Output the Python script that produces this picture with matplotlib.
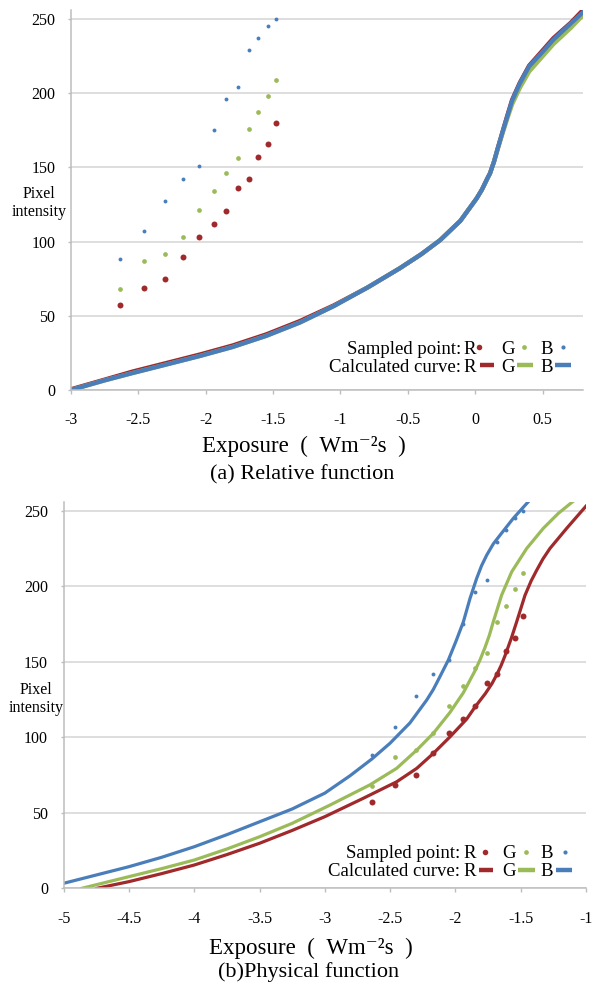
import matplotlib
matplotlib.use("Agg")
import matplotlib.pyplot as plt
from matplotlib.lines import Line2D

plt.rcParams['font.family'] = ['Liberation Serif', 'DejaVu Serif']
plt.rcParams['axes.unicode_minus'] = False

FIG_W, FIG_H = 593, 985

# log exposure of the 12 sampled pixels (same for both panels)
exposure = [-2.64, -2.46, -2.30, -2.17, -2.05, -1.94, -1.85, -1.76, -1.68, -1.61, -1.54, -1.48]
sample_r = [57, 68.5, 75, 89.5, 103, 112, 120.5, 136, 142, 157, 166, 180]
sample_g = [68, 87, 91.5, 103, 121, 134, 146, 156, 176, 187, 198, 209]
sample_b = [88, 107, 127, 142, 151, 175, 196, 204, 229, 237, 245, 250]

# (a) relative function - readings along the calculated curves
rel_x = [-3.0, -2.75, -2.54, -2.3, -2.04, -1.8, -1.55, -1.3, -1.05, -0.8, -0.56, -0.4,
         -0.26, -0.11, 0.01, 0.05, 0.09, 0.11, 0.14, 0.163, 0.2, 0.237, 0.274, 0.331,
         0.4, 0.512, 0.58, 0.71, 0.8]
rel_r = [0.5, 7, 12.5, 18, 24, 30, 37.5, 46.5, 57, 69, 82, 91.5,
         101, 114, 129, 135, 142.5, 146, 154, 161.5, 173, 184.5, 195.5, 207,
         218.5, 230, 237, 247.5, 256]
rel_g = [0, 6.5, 11.5, 17, 23, 29, 36.5, 45.5, 56.5, 69, 82, 91.5,
         101, 114, 129, 135, 142.5, 146, 154, 161, 172, 182.5, 192.5, 203.5,
         214.5, 226, 233, 244, 252.5]
rel_b = [0, 6.5, 11.5, 17, 23, 29, 36.5, 45.5, 56.5, 69, 82, 91.5,
         101, 114, 129, 135, 142.5, 146, 154, 161.5, 173, 184, 195, 206.5,
         218, 229, 236, 247, 254.5]

# (b) physical function - readings along the calculated curves
phys_r_x = [-4.745, -4.5, -4.25, -4.0, -3.75, -3.5, -3.25, -3.0, -2.705, -2.45, -2.296, -2.169,
            -2.041, -1.914, -1.85, -1.77, -1.72, -1.68, -1.65, -1.62, -1.57, -1.531, -1.467,
            -1.42, -1.378, -1.33, -1.276, -1.148, -1.0]
phys_r_y = [0, 4.4, 9.7, 15.4, 22.3, 29.8, 38.3, 47.4, 59.6, 70.5, 79.4, 89.3,
            100.3, 112, 120, 129, 135.5, 142, 147.5, 154, 166, 176.4, 194,
            203.5, 210.5, 218, 225, 238.3, 253]
phys_g_x = [-4.86, -4.5, -4.25, -4.0, -3.75, -3.5, -3.25, -2.96, -2.654, -2.45, -2.296, -2.169,
            -2.041, -1.939, -1.85, -1.81, -1.773, -1.74, -1.71, -1.646, -1.569, -1.454,
            -1.327, -1.212, -1.097]
phys_g_y = [0, 7.7, 13, 18.7, 26, 34.1, 43, 55.1, 68.5, 79.4, 91.5, 102.6,
            116.5, 129.5, 144, 151.5, 159.5, 167.5, 176.4, 194.1, 209.5, 225,
            238.3, 248.2, 256.3]
phys_b_x = [-5.0, -4.5, -4.25, -4.0, -3.75, -3.5, -3.25, -3.0, -2.807, -2.641, -2.501, -2.348,
            -2.22, -2.17, -2.125, -2.054, -1.995, -1.939, -1.888, -1.837, -1.80, -1.76,
            -1.71, -1.658, -1.557, -1.442]
phys_b_y = [3.3, 14.3, 20.5, 27.5, 35.5, 44, 52.5, 63, 74.5, 85.5, 96, 109.5,
            124.6, 131.5, 139, 151.1, 163.7, 176.4, 191.9, 205.2, 213.5, 220.6,
            228, 233.8, 244.9, 255.9]

y_ticks = [0, 50, 100, 150, 200, 250]
rel_ticks = [-3, -2.5, -2, -1.5, -1, -0.5, 0, 0.5]
rel_tick_labels = ['-3', '-2.5', '-2', '-1.5', '-1', '-0.5', '0', '0.5']
phys_ticks = [-5, -4.5, -4, -3.5, -3, -2.5, -2, -1.5, -1]
phys_tick_labels = ['-5', '-4.5', '-4', '-3.5', '-3', '-2.5', '-2', '-1.5', '-1']

RED = '#A0292C'
GREEN = '#9BBB59'
BLUE = '#4A7EBB'
GRID = '#D4D4D4'
AXIS = '#BDBDBD'

XLABEL = 'Exposure\u2002(\u2002Wm\u207b\u00b2s\u2002)'


def fpos(x, y):
    # pixel position -> figure fraction
    return x / FIG_W, 1 - y / FIG_H


def style_axes(ax, xlim, xticks, xlabels):
    ax.set_xlim(*xlim)
    ax.set_ylim(0, 256)
    ax.set_xticks(xticks)
    ax.set_xticklabels(xlabels)
    ax.set_yticks(y_ticks)
    ax.set_yticklabels([str(v) for v in y_ticks])
    ax.grid(axis='y', color=GRID, linewidth=1.1)
    ax.set_axisbelow(True)
    for side in ('top', 'right'):
        ax.spines[side].set_visible(False)
    for side in ('left', 'bottom'):
        ax.spines[side].set_color(AXIS)
        ax.spines[side].set_linewidth(1.1)
    ax.tick_params(axis='x', length=3, width=1, color=AXIS, pad=13, labelsize=11.5)
    ax.tick_params(axis='y', length=2.2, width=1, color=AXIS, pad=9, labelsize=11.5)


def draw_legend(fig, right, y1, y2, cols, dots, lines):
    fs = 13.5
    fig.text(*fpos(right, y1 + 6.5), 'Sampled point:', ha='right', va='baseline', fontsize=fs)
    fig.text(*fpos(right, y2 + 6.5), 'Calculated curve:', ha='right', va='baseline', fontsize=fs)
    sizes = [4.0, 3.4, 3.0]
    for name, cx, dx, (l0, l1), c, ms in zip('RGB', cols, dots, lines, [RED, GREEN, BLUE], sizes):
        fig.text(*fpos(cx, y1 + 6.5), name, ha='center', va='baseline', fontsize=fs)
        fig.text(*fpos(cx, y2 + 6.5), name, ha='center', va='baseline', fontsize=fs)
        x, y = fpos(dx, y1)
        fig.add_artist(Line2D([x], [y], transform=fig.transFigure, marker='o', ms=ms,
                              mec='none', color=c, linestyle='none'))
        xa, ya = fpos(l0, y2)
        xb, _ = fpos(l1, y2)
        fig.add_artist(Line2D([xa, xb], [ya, ya], transform=fig.transFigure, lw=3.2,
                              color=c, solid_capstyle='butt'))


fig = plt.figure(figsize=(FIG_W / 100, FIG_H / 100), dpi=100)

# ---- (a) relative function
ax1 = fig.add_axes([71 / FIG_W, 1 - 390 / FIG_H, 512 / FIG_W, 380 / FIG_H])
style_axes(ax1, (-3, 0.8), rel_ticks, rel_tick_labels)
ax1.plot(rel_x, rel_r, color=RED, lw=3.1, solid_joinstyle='round')
ax1.plot(rel_x, rel_g, color=GREEN, lw=3.1, solid_joinstyle='round')
ax1.plot(rel_x, rel_b, color=BLUE, lw=3.1, solid_joinstyle='round')
ax1.plot(exposure, sample_r, 'o', color=RED, ms=4.3, mec='none')
ax1.plot(exposure, sample_g, 'o', color=GREEN, ms=3.4, mec='none')
ax1.plot(exposure, sample_b, 'o', color=BLUE, ms=2.8, mec='none')

fig.text(*fpos(39, 203), 'Pixel\nintensity', ha='center', va='center', fontsize=11.5, linespacing=1.2)
fig.text(*fpos(304, 446), XLABEL, ha='center', va='center', fontsize=16.5)
fig.text(*fpos(302, 475), '(a) Relative function', ha='center', va='center', fontsize=16)
draw_legend(fig, 461, 347, 365, [469.5, 508, 546.5], [479, 524, 563.3],
            [(480, 494), (517, 533), (555, 571)])

# ---- (b) physical function
ax2 = fig.add_axes([63.6 / FIG_W, 1 - 888.3 / FIG_H, 522.4 / FIG_W, 386.7 / FIG_H])
style_axes(ax2, (-5, -1), phys_ticks, phys_tick_labels)
ax2.plot(phys_r_x, phys_r_y, color=RED, lw=2.3, solid_joinstyle='round')
ax2.plot(phys_g_x, phys_g_y, color=GREEN, lw=2.3, solid_joinstyle='round')
ax2.plot(phys_b_x, phys_b_y, color=BLUE, lw=2.3, solid_joinstyle='round')
ax2.plot(exposure, sample_r, 'o', color=RED, ms=4.3, mec='none')
ax2.plot(exposure, sample_g, 'o', color=GREEN, ms=3.4, mec='none')
ax2.plot(exposure, sample_b, 'o', color=BLUE, ms=2.8, mec='none')

fig.text(*fpos(36, 699), 'Pixel\nintensity', ha='center', va='center', fontsize=11.5, linespacing=1.2)
fig.text(*fpos(311, 948), XLABEL, ha='center', va='center', fontsize=16.5)
fig.text(*fpos(309, 972), '(b)Physical function', ha='center', va='center', fontsize=16)
draw_legend(fig, 460, 851.7, 870, [470, 509, 546.7], [485, 525.7, 565],
            [(479, 493), (518, 535), (556, 572)])

fig.savefig('out.png', dpi=100)
